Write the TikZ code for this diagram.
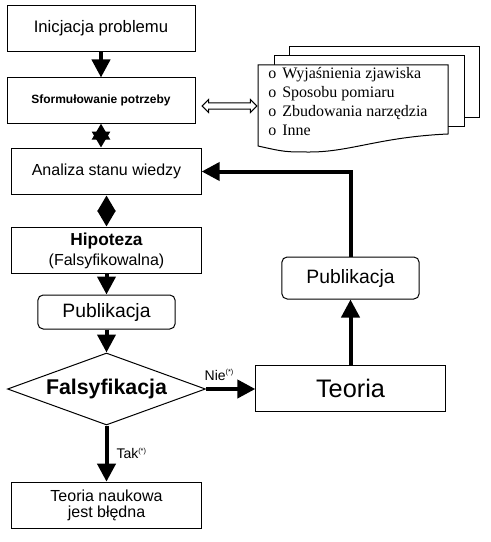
\documentclass[tikz,border=0pt]{standalone}
\usepackage{fontspec}
\setmainfont{Liberation Sans}
\newfontfamily\listfont{Liberation Serif}
\usetikzlibrary{arrows.meta,shapes.geometric,shapes.arrows}

\tikzset{
  box/.style={draw,line width=0.75pt,inner sep=0pt,align=center,minimum width=142pt,minimum height=35pt},
  pub/.style={box,rounded corners=4pt,minimum width=103pt},
  flow/.style={line width=3pt,-{Triangle[length=13.5pt,width=13.5pt]}},
  both/.style={line width=3pt,{Triangle[length=12pt,width=13pt]}-{Triangle[length=12pt,width=13pt]}},
  page/.style={draw,line width=0.75pt,fill=white},
  item/.style={anchor=west,inner sep=0pt,font=\listfont\fontsize{12}{13}\selectfont},
  lbl/.style={inner sep=1pt,font=\fontsize{10.5}{12}\selectfont},
}
\newcommand{\footmark}{\textsuperscript{\fontsize{5.5}{5.5}\selectfont(*)}}

\begin{document}
\begin{tikzpicture}[x=0.75pt,y=-0.75pt]
\useasboundingbox (0,0) rectangle (490,542);
% left column
\node[box,minimum width=141pt,font=\fontsize{12.5}{15}\selectfont] (init) at (101,28.5) {Inicjacja problemu};
\node[box,minimum width=141pt,minimum height=33.75pt,font=\fontsize{9}{11}\selectfont\bfseries] (need) at (101,100.5) {Sformułowanie potrzeby};
\node[box,font=\fontsize{12}{15}\selectfont] (know) at (106.5,171.5) {Analiza stanu wiedzy};
\node[box,font=\fontsize{12}{15}\selectfont] (hyp) at (106.5,250.5) {\textbf{\fontsize{13}{15}\selectfont Hipoteza}\\(Falsyfikowalna)};
\node[pub,minimum height=25.5pt,font=\fontsize{14.5}{17}\selectfont] (pub1) at (106.5,312) {Publikacja};
\node[diamond,draw,line width=0.75pt,inner sep=0pt,aspect=2.75,minimum width=148.5pt,minimum height=54pt,font=\fontsize{16}{19}\selectfont\bfseries] (fals) at (106.5,389) {Falsyfikacja};
\node[box,font=\fontsize{12}{12.5}\selectfont] (wrong) at (106.5,505.5) {Teoria naukowa\\jest błędna};
% right column
\node[box,minimum height=34.5pt,font=\fontsize{19}{22}\selectfont] (theory) at (350.5,388) {Teoria};
\node[pub,minimum height=31.5pt,font=\fontsize{14.5}{17}\selectfont] (pub2) at (350.5,278) {Publikacja};

% document stack
\foreach \dx/\dy in {31/18,16/9}{
  \draw[page] (258+\dx,65-\dy) rectangle +(190,70);
}
\draw[page] (258,146) -- (258,65) -- (448,65) -- (448,134)
  .. controls (380,137) and (350,152) .. (310,152) .. controls (285,152) .. (258,146) -- cycle;
\foreach \t [count=\i] in {Wyjaśnienia zjawiska,Sposobu pomiaru,Zbudowania narzędzia,Inne}{
  \node[item] (item\i) at (268,56+18.7*\i) {o\hspace{4.5pt}\t};
}
\node[double arrow,draw,line width=0.75pt,inner xsep=0pt,inner ysep=1.9pt,text height=0pt,text depth=0pt,
  double arrow head extend=2.6pt,double arrow head indent=0pt,minimum height=41pt] (link) at (229.5,106) {};

% connectors
\draw[flow] (init) -- (need);
\draw[both] (need.south) -- (need.south |- know.north);
\draw[both] (know) -- (hyp);
\draw[flow] (hyp) -- (pub1);
\draw[flow] (pub1) -- (fals);
\draw[flow] (fals.east) -- (fals.east -| theory.west)
  node[lbl,pos=0,anchor=south west,xshift=-3.5pt,yshift=4pt] (nie) {Nie\footmark};
\draw[flow] (fals.south) -- (wrong.north)
  node[lbl,pos=0.5,anchor=west,xshift=5pt] (tak) {Tak\footmark};
\draw[flow] (theory) -- (pub2);
\draw[flow] (pub2.north) |- (know.east);
\end{tikzpicture}
\end{document}
